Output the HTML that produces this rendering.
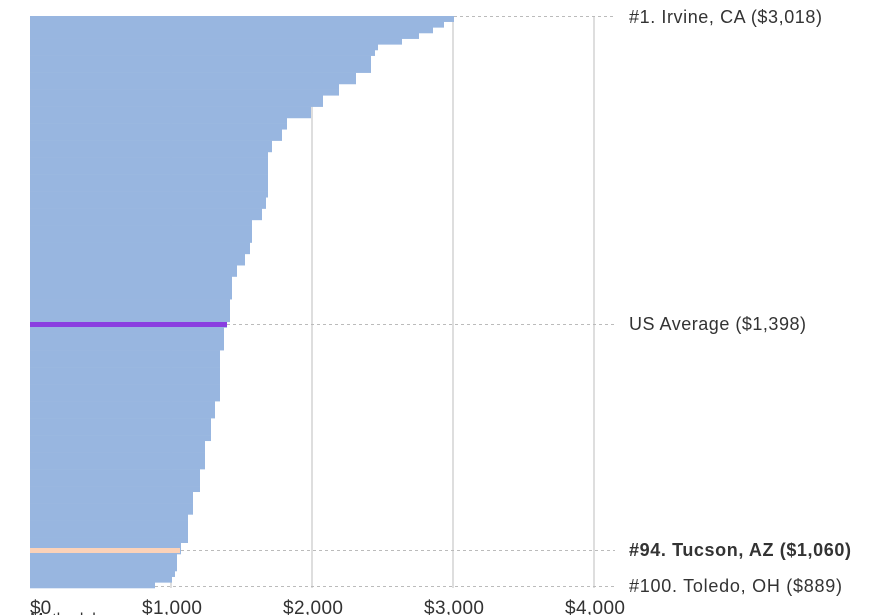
<!DOCTYPE html>
<html><head><meta charset="utf-8"><style>
html,body{margin:0;padding:0;background:#fff;width:873px;height:615px;overflow:hidden}
svg text{font-family:"Liberation Sans",sans-serif;fill:#333}
</style></head><body>
<svg id="s" width="873" height="615" xmlns="http://www.w3.org/2000/svg">
<g stroke="#ccc" stroke-width="1.3">
<line x1="171" y1="17" x2="171" y2="588"/><line x1="312" y1="17" x2="312" y2="588"/>
<line x1="453" y1="17" x2="453" y2="588"/><line x1="594" y1="17" x2="594" y2="588"/>
</g>
<g id="bars"></g>
<g stroke="#bbb" stroke-width="1" stroke-dasharray="3,3">
<line x1="454" y1="16.5" x2="615" y2="16.5"/>
<line x1="227" y1="324.5" x2="615" y2="324.5"/>
<line x1="181" y1="550.5" x2="615" y2="550.5"/>
<line x1="155" y1="586.5" x2="615" y2="586.5"/>
</g>
<rect x="30" y="322" width="197" height="5" fill="#8a3fe0"/>
<rect x="30" y="548" width="150" height="5" fill="#fcd2b8"/>
<g font-size="18">
<text x="629" y="23" textLength="193" lengthAdjust="spacing">#1. Irvine, CA ($3,018)</text>
<text x="629" y="330" textLength="177" lengthAdjust="spacing">US Average ($1,398)</text>
<text x="629" y="556" font-weight="bold" fill="#222" textLength="222" lengthAdjust="spacing">#94. Tucson, AZ ($1,060)</text>
<text x="629" y="592" textLength="213" lengthAdjust="spacing">#100. Toledo, OH ($889)</text>
</g>
<g font-size="19">
<text x="30" y="614">$0</text>
<text x="172" y="614" text-anchor="middle" textLength="60" lengthAdjust="spacing">$1,000</text>
<text x="313" y="614" text-anchor="middle" textLength="60" lengthAdjust="spacing">$2,000</text>
<text x="454" y="614" text-anchor="middle" textLength="60" lengthAdjust="spacing">$3,000</text>
<text x="595" y="614" text-anchor="middle" textLength="60" lengthAdjust="spacing">$4,000</text>
<text x="30" y="624" font-size="16">Methodology</text>
</g>
</svg>
<script>
var k=[[16,454],[23,444],[29,433],[35,419],[41,402],[46,378],[52,375],[57,371],[75,356],[86,339],[97,323],[108,311],[118,287],[128,282],[140,272],[150,268],[200,266],[210,262],[220,252],[245,250],[252,245],[265,237],[275,232],[300,230],[322,227],[327,224],[350,220],[400,215],[420,211],[440,205],[470,200],[490,193],[515,188],[545,181],[555,177],[570,175],[578,172],[583,155],[588,155]];
function ex(y){for(var i=0;i<k.length-1;i++){if(y>=k[i][0]&&y<k[i+1][0])return k[i][1];}return 155;}
var g=document.getElementById('bars'),h="",n=101,H=572/n;
for(var i=0;i<n;i++){var y=16+i*H;var x=ex(y+H/2);h+='<rect x="30" y="'+y.toFixed(2)+'" width="'+(x-30)+'" height="'+(H+0.3).toFixed(2)+'" fill="#98b6e0"/>';}
g.innerHTML=h;
</script>
</body></html>
